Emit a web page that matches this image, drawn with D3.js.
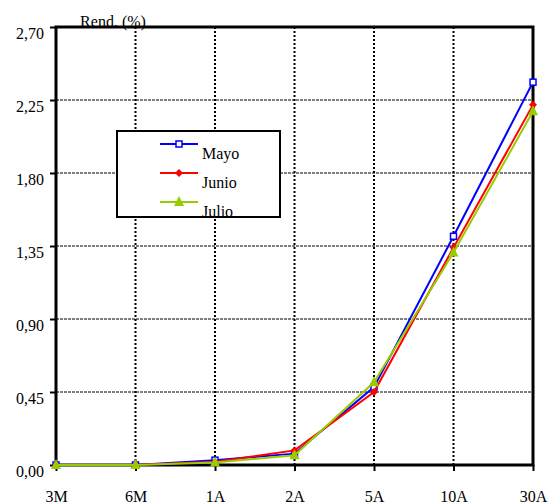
<!DOCTYPE html>
<html>
<head>
<meta charset="utf-8">
<script src="https://cdn.jsdelivr.net/npm/d3@7"></script>
<style>
  body { margin: 0; background: #fff; }
  svg { display: block; }
  svg text { font-family: "Liberation Serif", "Times New Roman", "DejaVu Serif", serif; fill: #000; }
</style>
</head>
<body>
<svg width="550" height="504"></svg>
<script>
const plazos = ["3M", "6M", "1A", "2A", "5A", "10A", "30A"];
const mayo  = [0.00, 0.00, 0.03, 0.07, 0.48, 1.41, 2.36];
const junio = [0.00, 0.00, 0.02, 0.09, 0.45, 1.34, 2.22];
const julio = [0.00, 0.00, 0.015, 0.06, 0.51, 1.31, 2.18];
const yTicks = [0, 0.45, 0.9, 1.35, 1.8, 2.25, 2.7];

const series = [
  { name: "Mayo",  values: mayo,  color: "#0000ff", marker: "square" },
  { name: "Junio", values: junio, color: "#ff0000", marker: "diamond" },
  { name: "Julio", values: julio, color: "#99cc00", marker: "triangle" }
];

const plotL = 56, plotR = 533, plotT = 27, plotB = 465;
const svg = d3.select("svg");

const x = d3.scalePoint().domain(plazos).range([plotL, plotR]);
const y = d3.scaleLinear().domain([0, 2.7]).range([plotB, plotT]);
const fmt = d => d3.format(".2f")(d).replace(".", ",");

// grid
svg.append("g").selectAll("line")
  .data(plazos.slice(1, -1))
  .enter().append("line")
    .attr("x1", d => x(d)).attr("x2", d => x(d))
    .attr("y1", plotT).attr("y2", plotB)
    .attr("stroke", "#000").attr("stroke-width", 2)
    .attr("stroke-dasharray", "2,2");

svg.append("g").selectAll("line")
  .data(yTicks.slice(1, -1))
  .enter().append("line")
    .attr("x1", plotL).attr("x2", plotR)
    .attr("y1", d => y(d)).attr("y2", d => y(d))
    .attr("stroke", "#000").attr("stroke-width", 1)
    .attr("stroke-dasharray", "3,1");

// axes
const xAxis = svg.append("g")
  .attr("transform", `translate(0,${plotB})`)
  .call(d3.axisBottom(x).tickSize(6).tickPadding(20));
const yAxis = svg.append("g")
  .attr("transform", `translate(${plotL},0)`)
  .call(d3.axisLeft(y).tickValues(yTicks).tickFormat(fmt).tickSize(6).tickPadding(6));

[xAxis, yAxis].forEach(g => {
  g.attr("font-family", null).attr("font-size", null);
  g.select(".domain").remove();
  g.selectAll(".tick line").attr("stroke", "#000").attr("stroke-width", 2);
  g.selectAll(".tick text").attr("fill", "#000").style("font-size", "16px");
});
yAxis.selectAll(".tick text").attr("dy", "0.7em");

// frame
svg.append("rect")
  .attr("x", plotL).attr("y", plotT)
  .attr("width", plotR - plotL).attr("height", plotB - plotT)
  .attr("fill", "none").attr("stroke", "#000").attr("stroke-width", 3);

// axis title
svg.append("text")
  .attr("x", 113).attr("y", 27)
  .attr("text-anchor", "middle")
  .style("font-size", "16px")
  .text("Rend. (%)");

function drawMarker(g, type, color, cx, cy) {
  if (type === "square") {
    g.append("rect")
      .attr("x", cx - 3).attr("y", cy - 3).attr("width", 6).attr("height", 6)
      .attr("fill", "#fff").attr("stroke", color).attr("stroke-width", 1.5);
  } else if (type === "diamond") {
    g.append("path")
      .attr("d", `M${cx},${cy - 4}L${cx + 4},${cy}L${cx},${cy + 4}L${cx - 4},${cy}Z`)
      .attr("fill", color);
  } else {
    g.append("path")
      .attr("d", `M${cx},${cy - 6}L${cx + 5},${cy + 4}L${cx - 5},${cy + 4}Z`)
      .attr("fill", color);
  }
}

const line = d3.line().x((d, i) => x(plazos[i])).y(d => y(d));

series.forEach(s => {
  const g = svg.append("g");
  g.append("path")
    .datum(s.values)
    .attr("d", line)
    .attr("fill", "none")
    .attr("stroke", s.color)
    .attr("stroke-width", 2);
  s.values.forEach((v, i) => drawMarker(g, s.marker, s.color, x(plazos[i]), y(v)));
});

// legend
const legend = svg.append("g");
legend.append("rect")
  .attr("x", 117).attr("y", 131).attr("width", 163).attr("height", 86)
  .attr("fill", "#fff").attr("stroke", "#000").attr("stroke-width", 2);

series.forEach((s, i) => {
  const ly = 144 + i * 29;
  legend.append("line")
    .attr("x1", 160).attr("x2", 198).attr("y1", ly).attr("y2", ly)
    .attr("stroke", s.color).attr("stroke-width", 2);
  drawMarker(legend, s.marker, s.color, 179, ly);
  legend.append("text")
    .attr("x", 202).attr("y", ly + 15)
    .style("font-size", "16px")
    .text(s.name);
});
</script>
</body>
</html>
